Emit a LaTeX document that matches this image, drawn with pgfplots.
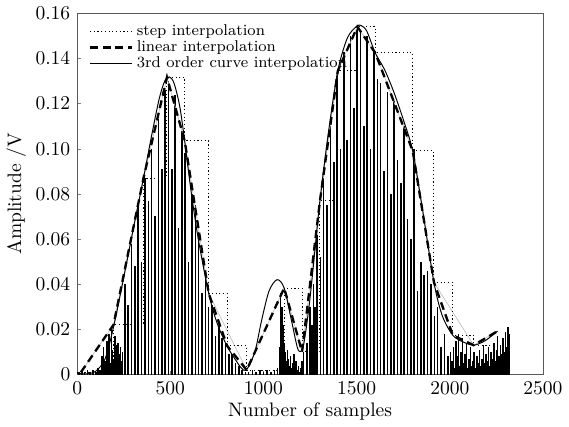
\documentclass[border=0pt]{standalone}
\usepackage{pgfplots}
\pgfplotsset{compat=1.18}

% spikes of the sampled signal (peak heights)
\pgfplotstableread{
s v
10 0.001
25 0.002
40 0.001
55 0.002
70 0.001
85 0.002
100 0.001
112 0.003
122 0.002
133 0.008
138 0.004
142 0.012
148 0.006
154 0.003
160 0.015
166 0.009
172 0.018
178 0.005
184 0.020
190 0.011
196 0.007
202 0.017
208 0.013
214 0.004
220 0.014
226 0.009
232 0.012
238 0.006
244 0.010
256 0.040
274 0.031
292 0.058
310 0.048
328 0.074
346 0.050
364 0.087
382 0.077
400 0.100
418 0.070
436 0.113
454 0.091
472 0.126
490 0.130
508 0.091
526 0.124
544 0.065
562 0.108
580 0.098
598 0.050
616 0.080
634 0.075
652 0.063
670 0.036
688 0.045
706 0.030
724 0.031
742 0.017
760 0.022
778 0.016
796 0.014
814 0.009
832 0.009
850 0.005
868 0.004
886 0.002
904 0.001
920 0.001
940 0.002
960 0.001
980 0.002
1000 0.001
1020 0.002
1040 0.001
1060 0.002
1075 0.003
1085 0.012
1092 0.036
1098 0.030
1104 0.022
1110 0.014
1116 0.010
1122 0.006
1128 0.011
1134 0.007
1140 0.004
1146 0.008
1152 0.003
1158 0.005
1164 0.009
1170 0.004
1176 0.006
1182 0.002
1188 0.004
1194 0.001
1200 0.003
1206 0.006
1215 0.010
1233 0.014
1251 0.030
1260 0.022
1269 0.040
1278 0.030
1287 0.062
1305 0.052
1323 0.087
1341 0.075
1359 0.110
1377 0.094
1395 0.132
1413 0.100
1431 0.143
1449 0.104
1467 0.150
1485 0.118
1503 0.153
1521 0.152
1539 0.110
1557 0.150
1575 0.100
1593 0.143
1611 0.131
1629 0.129
1647 0.090
1665 0.125
1683 0.080
1701 0.121
1719 0.095
1737 0.085
1755 0.110
1773 0.069
1791 0.060
1809 0.100
1827 0.037
1845 0.050
1863 0.044
1881 0.046
1899 0.040
1917 0.026
1935 0.030
1953 0.012
1971 0.018
1989 0.008
2003 0.010
2012 0.006
2019 0.012
2026 0.003
2033 0.015
2040 0.008
2047 0.018
2054 0.004
2061 0.010
2068 0.016
2075 0.005
2082 0.009
2089 0.014
2096 0.003
2103 0.007
2110 0.012
2117 0.004
2124 0.006
2131 0.010
2138 0.003
2145 0.008
2152 0.005
2159 0.011
2166 0.004
2173 0.007
2180 0.013
2187 0.005
2194 0.009
2201 0.006
2208 0.012
2215 0.004
2222 0.010
2229 0.007
2236 0.014
2243 0.006
2250 0.011
2257 0.017
2264 0.008
2271 0.013
2278 0.009
2285 0.016
2292 0.010
2299 0.019
2306 0.012
2313 0.021
2320 0.018
}\spikes

\begin{document}
\begin{tikzpicture}
\begin{axis}[
  width=238.5pt, height=185pt, scale only axis,
  xmin=0, xmax=2500, ymin=0, ymax=0.16,
  xtick={0,500,1000,1500,2000,2500},
  xticklabels={0,500,1000,1500,2000,2500},
  ytick={0,0.02,0.04,0.06,0.08,0.10,0.12,0.14,0.16},
  yticklabels={0,0.02,0.04,0.06,0.08,0.10,0.12,0.14,0.16},
  scaled x ticks=false, scaled y ticks=false,
  tick align=inside, tick pos=left, major tick length=2pt,
  axis line style={black!65},
  xlabel={Number of samples},
  ylabel={Amplitude /V},
  xlabel style={yshift=3pt},
  ylabel style={yshift=-2pt},
  legend cell align=left,
  legend image code/.code={\draw[#1] (0cm,0cm) -- (0.75cm,0cm);},
  legend style={at={(0.02,0.985)}, anchor=north west, draw=none, fill=none,
    font=\footnotesize, row sep=-3pt, inner sep=1pt},
]
% signal
\addplot[ycomb, black, line width=0.8pt, forget plot] table[x=s, y=v] {\spikes};
% faint grey envelope
\addplot[gray!55, line width=0.3pt, forget plot] coordinates {
  (20,0.001) (195,0.022) (356,0.087) (482,0.1316) (577,0.1035) (706,0.0359)
  (910,0.002) (1111,0.0383) (1207,0.0101) (1303,0.0769) (1399,0.1345)
  (1504,0.154) (1600,0.1424) (1801,0.099) (1915,0.0408) (2128,0.013) (2256,0.0192)};
% step interpolation
\addplot[const plot, black, line width=0.5pt, dash pattern=on 0.6pt off 1.3pt] coordinates {
  (0,0.001) (100,0.002) (195,0.022) (356,0.087) (482,0.1316) (577,0.1035)
  (706,0.0359) (805,0.0127) (910,0.002) (1111,0.0383) (1207,0.0101)
  (1303,0.0769) (1399,0.1345) (1504,0.154) (1600,0.1424) (1801,0.099)
  (1915,0.0408) (2016,0.0174) (2128,0.013) (2247,0.013)};
% linear interpolation
\addplot[black, line width=1.2pt, dash pattern=on 4pt off 2.5pt] coordinates {
  (20,0.001) (195,0.022) (356,0.087) (482,0.1316) (577,0.1035) (706,0.0359)
  (805,0.0127) (910,0.002) (1111,0.0383) (1207,0.0101) (1303,0.0769)
  (1399,0.1345) (1504,0.154) (1600,0.1424) (1801,0.099) (1915,0.0408)
  (2016,0.0174) (2128,0.013) (2256,0.0192)};
% 3rd order curve interpolation
\addplot[black, line width=0.5pt, smooth] coordinates {
  (0,0.0005) (50,0.0003) (100,0.0015) (150,0.007) (195,0.021) (250,0.043)
  (300,0.064) (356,0.087) (400,0.106) (440,0.122) (470,0.130) (495,0.1318)
  (520,0.129) (550,0.119) (577,0.1035) (610,0.082) (650,0.060) (706,0.036)
  (750,0.023) (805,0.0125) (850,0.0065) (880,0.003) (905,0.0018) (935,0.006)
  (960,0.012) (990,0.024) (1030,0.037) (1073,0.042) (1111,0.0383)
  (1150,0.024) (1180,0.0125) (1195,0.0102) (1215,0.013) (1250,0.034)
  (1303,0.0769) (1350,0.108) (1399,0.1345) (1450,0.149) (1500,0.1542)
  (1525,0.1545) (1555,0.152) (1600,0.1424) (1650,0.135) (1700,0.125)
  (1750,0.113) (1801,0.099) (1850,0.075) (1915,0.0408) (1960,0.026)
  (2016,0.0174) (2070,0.0145) (2128,0.013) (2190,0.015) (2256,0.0192)};
\legend{step interpolation, linear interpolation, 3rd order curve interpolation}
\end{axis}
\end{tikzpicture}
\end{document}
